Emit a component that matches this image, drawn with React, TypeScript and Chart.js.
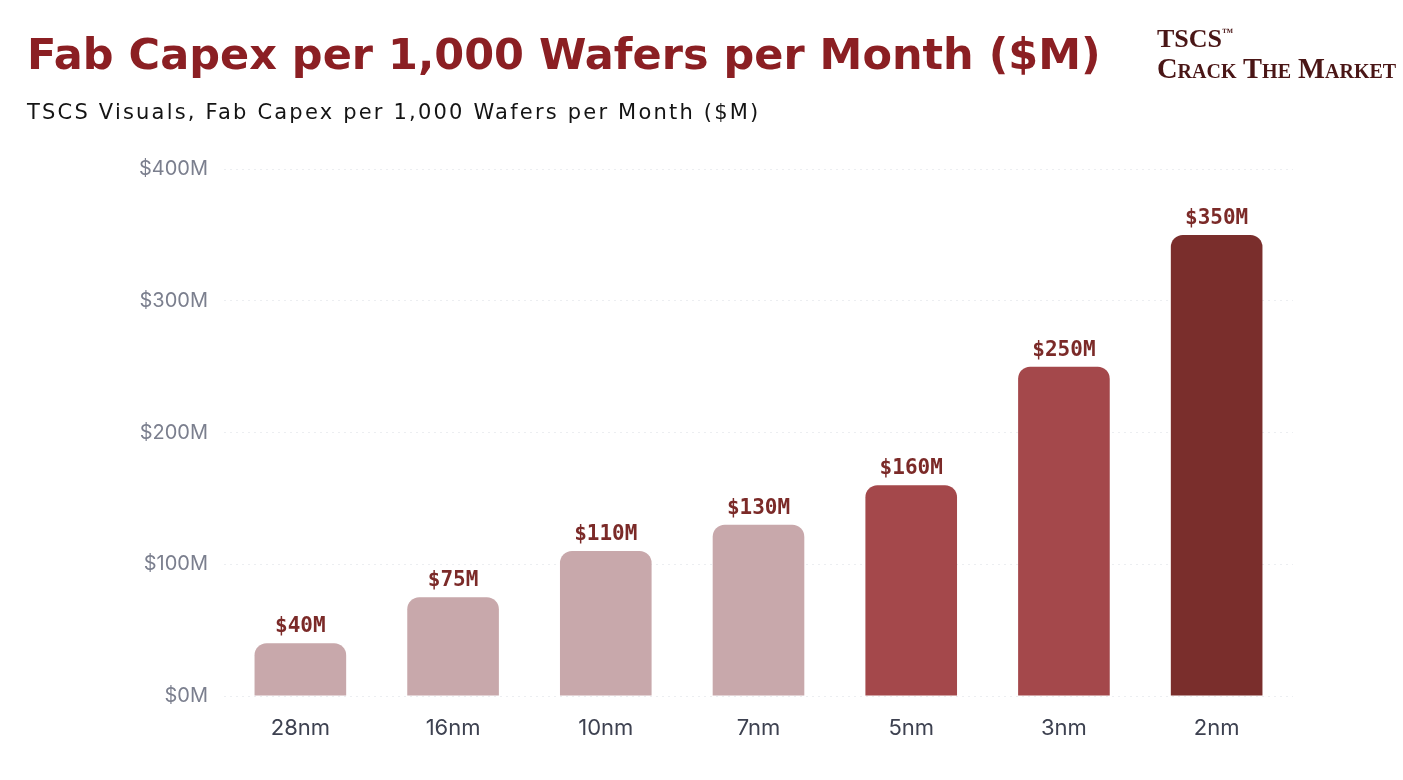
import { useEffect, useRef } from 'react';
import { Chart, registerables } from 'chart.js';

Chart.register(...registerables);

const nodes = ['28nm', '16nm', '10nm', '7nm', '5nm', '3nm', '2nm'];
const capex = [40, 75, 110, 130, 160, 250, 350];
const barColors = ['#c8a8ab', '#c8a8ab', '#c8a8ab', '#c8a8ab', '#a4484b', '#a4484b', '#7a2e2c'];
const yTicks = [0, 100, 200, 300, 400];

const valueLabels = {
  id: 'valueLabels',
  afterDatasetsDraw(chart: Chart) {
    const ctx = chart.ctx;
    const meta = chart.getDatasetMeta(0);
    ctx.save();
    ctx.font = 'bold 21px "DejaVu Sans Mono", monospace';
    ctx.fillStyle = '#7b2a28';
    ctx.textAlign = 'center';
    ctx.textBaseline = 'alphabetic';
    meta.data.forEach((bar: any, i: number) => {
      ctx.fillText(`$${capex[i]}M`, bar.x, bar.y - 11);
    });
    ctx.restore();
  },
};

export default function App() {
  const chartRef = useRef<HTMLCanvasElement>(null);

  useEffect(() => {
    if (!chartRef.current) return;
    const chart = new Chart(chartRef.current, {
      type: 'bar',
      data: {
        labels: nodes,
        datasets: [
          {
            data: capex,
            backgroundColor: barColors,
            borderRadius: { topLeft: 12, topRight: 12, bottomLeft: 0, bottomRight: 0 },
            borderSkipped: false,
            barPercentage: 0.6,
            categoryPercentage: 1,
          },
        ],
      },
      options: {
        responsive: true,
        maintainAspectRatio: false,
        animation: false,
        layout: { padding: { top: 169, right: 110, left: 0, bottom: 0 } },
        plugins: {
          legend: { display: false },
          tooltip: { enabled: false },
        },
        scales: {
          x: {
            grid: { display: false },
            border: { display: false },
            ticks: {
              color: '#3d4150',
              padding: 11,
              font: { family: 'Inter, "Noto Sans", sans-serif', size: 22 },
            },
            afterFit: (s: any) => {
              s.height = 84;
            },
          },
          y: {
            min: 0,
            max: 400,
            afterBuildTicks: (s: any) => {
              s.ticks = yTicks.map((v) => ({ value: v }));
            },
            grid: {
              color: '#eceef1',
              drawTicks: false,
            },
            border: { display: false, dash: [2, 4] },
            ticks: {
              color: '#7b7f8e',
              padding: 16,
              font: { family: 'Inter, "Noto Sans", sans-serif', size: 20 },
              callback: (v: any) => `$${v}M`,
            },
            afterFit: (s: any) => {
              s.width = 224;
            },
          },
        },
      },
      plugins: [valueLabels],
    });
    return () => chart.destroy();
  }, []);

  return (
    <div
      style={{
        position: 'absolute',
        left: 0,
        top: 0,
        width: 1403,
        height: 780,
        background: '#ffffff',
        overflow: 'hidden',
      }}
    >
      <div style={{ position: 'absolute', inset: 0 }}>
        <canvas ref={chartRef}></canvas>
      </div>
      <div
        style={{
          position: 'absolute',
          left: 27,
          top: 25,
          fontFamily: '"DejaVu Sans", sans-serif',
          fontWeight: 700,
          fontSize: 43,
          color: '#8b1f23',
          whiteSpace: 'nowrap',
          lineHeight: '58px',
        }}
      >
        Fab Capex per 1,000 Wafers per Month ($M)
      </div>
      <div
        style={{
          position: 'absolute',
          left: 27,
          top: 97,
          fontFamily: '"DejaVu Sans", sans-serif',
          fontSize: 21,
          letterSpacing: 2.2,
          color: '#141414',
          whiteSpace: 'nowrap',
          lineHeight: '30px',
        }}
      >
        TSCS Visuals, Fab Capex per 1,000 Wafers per Month ($M)
      </div>
      <div
        style={{
          position: 'absolute',
          left: 1157,
          top: 24,
          fontFamily: '"Liberation Serif", serif',
          fontWeight: 700,
          color: '#4a1616',
          whiteSpace: 'nowrap',
        }}
      >
        <div style={{ fontSize: 26, lineHeight: '30px' }}>
          TSCS<span style={{ fontSize: 11, verticalAlign: 'top', lineHeight: '16px' }}>™</span>
        </div>
        <div style={{ fontSize: 28.5, lineHeight: '30px', fontVariant: 'small-caps' }}>Crack The Market</div>
      </div>
    </div>
  );
}
